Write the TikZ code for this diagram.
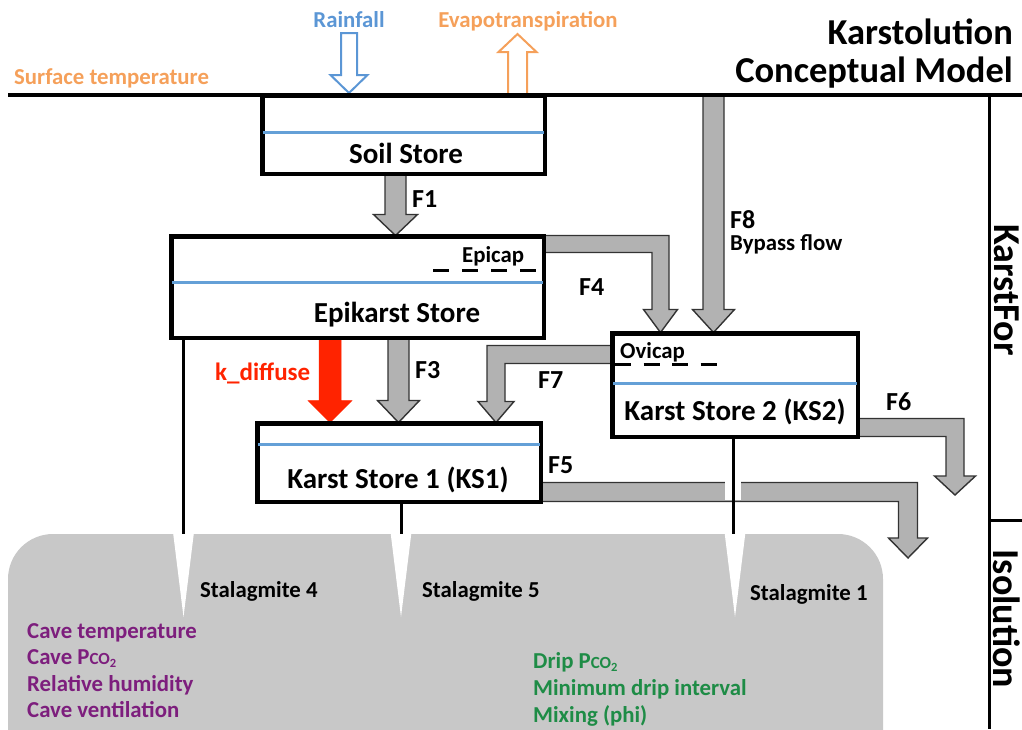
\documentclass[tikz,border=0pt]{standalone}
\usepackage{fontspec}
\setmainfont{Carlito}
\usetikzlibrary{calc}
\definecolor{arrgray}{RGB}{178,178,178}
\definecolor{cavegray}{RGB}{200,200,200}
\definecolor{waterblue}{RGB}{100,160,215}
\definecolor{rainblue}{RGB}{91,150,213}
\definecolor{evaporange}{RGB}{245,160,90}
\definecolor{kred}{RGB}{255,35,0}
\definecolor{cavepurple}{RGB}{125,30,125}
\definecolor{dripgreen}{RGB}{30,140,70}
% vertical block arrow: style, start, tip, shaft half width, head half width, head base offset
\newcommand{\vblock}[6]{%
  \draw[#1] ($(#2)+(-#4,0)$) -- ($(#3)+(-#4,#6)$) -- ($(#3)+(-#5,#6)$) -- (#3)
    -- ($(#3)+(#5,#6)$) -- ($(#3)+(#4,#6)$) -- ($(#2)+(#4,0)$) -- cycle;}
% bent block arrow: style, start (band top at source), tip, signed shaft half width, signed head half width, head base offset, band thickness
\newcommand{\bblock}[7]{%
  \draw[#1] (#2) -- ($(#3 |- #2)+({#4},0)$) -- ($(#3)+({#4},#6)$) -- ($(#3)+({#5},#6)$) -- (#3)
    -- ($(#3)+({-(#5)},#6)$) -- ($(#3)+({-(#4)},#6)$) -- ($(#3 |- #2)+({-(#4)},#7)$) -- ($(#2)+(0,#7)$) -- cycle;}
\newcommand{\pcotwo}{P{\fontsize{17}{17}\selectfont CO}\raisebox{-3pt}{\fontsize{12.5}{12.5}\selectfont 2}}
\begin{document}
\begin{tikzpicture}[x=1pt,y=-1pt,
  box/.style={draw=black, line width=3pt, fill=white, inner sep=0pt},
  water/.style={draw=waterblue, line width=3pt},
  flow/.style={fill=arrgray, draw=black!80, line width=1.4pt, line join=miter},
  kflow/.style={fill=kred, draw=kred, line width=0.5pt},
  rainarrow/.style={fill=white, draw=rainblue, line width=2pt},
  evaparrow/.style={fill=white, draw=evaporange, line width=2pt},
  thick line/.style={draw=black, line width=3pt},
  capdash/.style={draw=black, line width=3pt, dash pattern=on 15.5pt off 13.5pt},
  ovidash/.style={draw=black, line width=3pt, dash pattern=on 16pt off 12.5pt},
  store/.style={font=\bfseries\fontsize{29}{33}\selectfont, inner sep=0pt, anchor=base},
  flab/.style={font=\bfseries\fontsize{26}{30}\selectfont, inner sep=0pt, anchor=base west},
  small/.style={font=\bfseries\fontsize{22.8}{27}\selectfont, inner sep=0pt, anchor=base west},
  title/.style={font=\bfseries\fontsize{36.5}{40}\selectfont, inner sep=0pt, anchor=base east},
  side/.style={font=\bfseries\fontsize{38}{42}\selectfont, inner sep=0pt, rotate=-90}]
\useasboundingbox (0,0) rectangle (1022,729);
\clip (0,0) rectangle (1022,729);

% cave
\fill[cavegray, rounded corners=45pt] (8,534) rectangle (883,800);
\foreach \sx in {183.5, 401, 735} {
  \fill[white] (\sx-10.5,532) -- (\sx+10.5,532) -- (\sx,617) -- cycle;
}

% stores
\node[box, minimum width=281pt, minimum height=77pt] (soil) at (403.5,134.5) {};
\node[box, minimum width=371pt, minimum height=100pt] (epi) at (357.5,287) {};
\node[box, minimum width=244pt, minimum height=102pt] (ks2) at (735,385) {};
\node[box, minimum width=282pt, minimum height=77pt] (ks1) at (399,462.5) {};

% axis coordinates
\coordinate (f1) at (395.5,0);
\coordinate (f3) at (398.5,0);
\coordinate (kd) at (330,0);
\coordinate (f4) at (660.5,0);
\coordinate (f7) at (496,0);
\coordinate (f8) at (713.5,0);
\coordinate (f5end) at (908,558);
\coordinate (f6end) at (955,495);
\coordinate (f4S) at (epi.north east);
\coordinate (f7S) at ($(ks2.north west)+(0,13)$);
\coordinate (f5S) at ($(ks1.south east)+(0,-20)$);
\coordinate (f6S) at ($(ks2.south east)+(0,-19)$);
\coordinate (rainS) at (349,33);
\coordinate (rainT) at (349,93);
\coordinate (evapS) at (517.5,95);
\coordinate (evapT) at (517.5,34);
\coordinate (st4) at (183.5,534);
\coordinate (st5) at (401,534);
\coordinate (st1) at (733,534);

% flows
\vblock{flow}{f1 |- soil.south}{f1 |- epi.north}{10.5}{22}{-21}
\vblock{flow}{f3 |- epi.south}{f3 |- ks1.north}{10.5}{21}{-22}
\vblock{kflow}{kd |- epi.south}{kd |- ks1.north}{11}{22}{-22}
\vblock{flow}{f8 |- soil.north}{f8 |- ks2.north}{10.5}{21}{-23}
\bblock{flow}{f4S}{f4 |- ks2.north}{8.5}{17}{-23}{17}
\bblock{flow}{f7S}{f7 |- ks1.north}{-9}{-18}{-21}{18}
\bblock{flow}{f5S}{f5end}{9.5}{19.5}{-20}{19}
\bblock{flow}{f6S}{f6end}{9}{20.5}{-19}{18}
\vblock{rainarrow}{rainS}{rainT}{8}{18.5}{-18}
\vblock{evaparrow}{evapS}{evapT}{9.5}{19}{18}

% redraw store borders over arrow ends
\draw[thick line] (soil.south west) rectangle (soil.north east);
\draw[thick line] (epi.south west) rectangle (epi.north east);
\draw[thick line] (ks2.south west) rectangle (ks2.north east);
\draw[thick line] (ks1.south west) rectangle (ks1.north east);

% water levels
\draw[water] ($(soil.north west)+(1.5,38)$) -- ($(soil.north east)+(-1.5,38)$);
\draw[water] ($(epi.north west)+(1.5,47)$) -- ($(epi.north east)+(-1.5,47)$);
\draw[water] ($(ks2.north west)+(1.5,51)$) -- ($(ks2.north east)+(-1.5,51)$);
\draw[water] ($(ks1.north west)+(1.5,22)$) -- ($(ks1.north east)+(-1.5,22)$);

% caps
\draw[capdash] (433,270) -- (537,270);
\draw[ovidash] (615,364) -- (719,364);

% drip lines
\draw[thick line] (st4 |- epi.south) -- (st4);
\draw[thick line] (st5 |- ks1.south) -- (st5);
\draw[white, line width=16pt] (733,481) -- (733,500);
\draw[thick line] (st1 |- ks2.south) -- (st1);

% ground and frame
\draw[draw=black, line width=3.2pt] (8,95) -- (1022,95);
\draw[thick line] (989,95) -- (989,729);
\draw[thick line] (989,520) -- (1022,520);

% texts
\node[store] (soilT) at (406,163) {Soil Store};
\node[store] (epiT) at (397,322) {Epikarst Store};
\node[store] (ks2T) at (735,420) {Karst Store 2 (KS2)};
\node[store] (ks1T) at (398,488) {Karst Store 1 (KS1)};
\node[small] (epicapT) at (462,262) {Epicap};
\node[small] (ovicapT) at (620,358) {Ovicap};
\node[flab] (f1T) at (412,207) {F1};
\node[flab] (f3T) at (415,378) {F3};
\node[flab] (f4T) at (579,295) {F4};
\node[flab] (f5T) at (548,473) {F5};
\node[flab] (f6T) at (886,410) {F6};
\node[flab] (f7T) at (538,388) {F7};
\node[flab] (f8T) at (730,228) {F8};
\node[small] (bypassT) at (730,250) {Bypass flow};
\node[flab, text=kred, font=\bfseries\fontsize{25}{30}\selectfont] (kdT) at (215,380) {k\_diffuse};
\node[small, anchor=base, text=rainblue] (rainL) at (349,27) {Rainfall};
\node[small, anchor=base, text=evaporange] (evapL) at (528,27) {Evapotranspiration};
\node[small, text=evaporange] (surfL) at (14,84) {Surface temperature};
\node[title] (title1) at (1013,44) {Karstolution};
\node[title] (title2) at (1013,82) {Conceptual Model};
\node[side] (karstfor) at (1007,290) {KarstFor};
\node[side] (isolution) at (1007,619) {Isolution};
\node[small] (s4) at (200,597) {Stalagmite 4};
\node[small] (s5) at (422,597) {Stalagmite 5};
\node[small] (s1) at (750,600) {Stalagmite 1};
\node[small, text=cavepurple] (cv1) at (27,638) {Cave temperature};
\node[small, text=cavepurple] (cv2) at (27,664) {Cave \pcotwo};
\node[small, text=cavepurple] (cv3) at (27,691) {Relative humidity};
\node[small, text=cavepurple] (cv4) at (27,717) {Cave ventilation};
\node[small, text=dripgreen] (dr1) at (533,668) {Drip \pcotwo};
\node[small, text=dripgreen] (dr2) at (533,695) {Minimum drip interval};
\node[small, text=dripgreen] (dr3) at (533,722) {Mixing (phi)};
\end{tikzpicture}
\end{document}
